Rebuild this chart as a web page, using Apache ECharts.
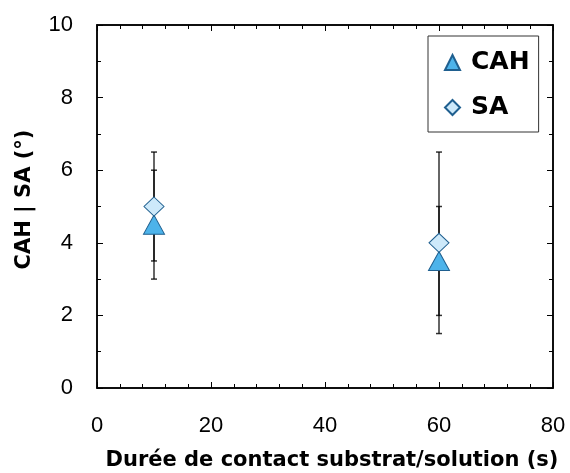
<!DOCTYPE html>
<html><head><meta charset="utf-8">
<script src="https://cdn.jsdelivr.net/npm/echarts@6/dist/echarts.min.js"></script>
<style>html,body{margin:0;padding:0;background:#fff}#c{width:570px;height:473px}</style>
</head><body><div id="c"></div>
<script>
// Data
const durations = [10, 60];
const cahValues = [4.5, 3.5];
const cahErrors = [1.5, 1.5];
const saValues = [5.0, 4.0];
const saErrors = [1.5, 2.5];
const xTicks = [0, 20, 40, 60, 80];
const yTicks = [0, 2, 4, 6, 8, 10];
const xTitle = 'Durée de contact substrat/solution (s)';
const yTitle = 'CAH | SA (°)';

const FONT = 'DejaVu Sans';
const TICKFONT = 'Liberation Sans';
const chart = echarts.init(document.getElementById('c'), null, {renderer: 'canvas'});

function errData(vals, errs) {
  return durations.map((d, i) => [d, vals[i] - errs[i], vals[i] + errs[i]]);
}
function errorRender(params, api) {
  const x = api.value(0);
  const lo = api.coord([x, api.value(1)]);
  const hi = api.coord([x, api.value(2)]);
  const cw = 3;
  const style = {stroke: 'rgba(0,0,0,0.8)', lineWidth: 1.5};
  return {type: 'group', children: [
    {type: 'line', shape: {x1: lo[0], y1: lo[1], x2: hi[0], y2: hi[1]}, style},
    {type: 'line', shape: {x1: lo[0]-cw, y1: lo[1], x2: lo[0]+cw, y2: lo[1]}, style},
    {type: 'line', shape: {x1: hi[0]-cw, y1: hi[1], x2: hi[0]+cw, y2: hi[1]}, style}
  ]};
}

function axLine() { return {show: true, onZero: false, lineStyle: {color: '#000', width: 1.5}}; }
function tk() { return {show: true, inside: true, length: 6, lineStyle: {color: '#000', width: 1}}; }
function mtk(n) { return {show: true, splitNumber: n, length: 4, lineStyle: {color: '#000', width: 1}}; }

chart.setOption({
  animation: false,
  grid: {left: 97, right: 17, top: 25, bottom: 85, show: true, borderColor: '#000', borderWidth: 1.5, backgroundColor: 'transparent'},
  xAxis: [
    {type: 'value', gridIndex: 0, position: 'bottom', min: 0, max: 80, interval: 20,
      axisLine: axLine(), axisTick: tk(), minorTick: mtk(5), splitLine: {show: false},
      axisLabel: {fontFamily: TICKFONT, fontSize: 22, color: '#000', margin: 27,
        formatter: v => xTicks.includes(v) ? String(v) : ''}},
    {type: 'value', gridIndex: 0, position: 'top', min: 0, max: 80, interval: 20,
      axisLine: axLine(), axisTick: tk(), minorTick: mtk(5), splitLine: {show: false},
      axisLabel: {show: false}}
  ],
  yAxis: [
    {type: 'value', gridIndex: 0, position: 'left', min: 0, max: 10, interval: 2,
      axisLine: axLine(), axisTick: tk(), minorTick: mtk(2), splitLine: {show: false},
      axisLabel: {fontFamily: TICKFONT, fontSize: 22, color: '#000', margin: 24,
        formatter: v => yTicks.includes(v) ? String(v) : ''}},
    {type: 'value', gridIndex: 0, position: 'right', min: 0, max: 10, interval: 2,
      axisLine: axLine(), axisTick: tk(), minorTick: mtk(2), splitLine: {show: false},
      axisLabel: {show: false}}
  ],
  legend: {
    left: 428, top: 36, orient: 'vertical',
    borderColor: '#333', borderWidth: 1, borderRadius: 0, backgroundColor: '#fff',
    padding: [14, 9, 12, 16], itemGap: 20, itemWidth: 15, itemHeight: 15,
    textStyle: {fontFamily: FONT, fontWeight: 'bold', fontSize: 25, color: '#000', padding: [0, 0, 0, 6]},
    data: [{name: 'CAH', icon: 'triangle'}, {name: 'SA', icon: 'diamond'}]
  },
  graphic: [
    {type: 'text', x: 332, y: 461, style: {text: xTitle, fontFamily: FONT, fontWeight: 'bold', fontSize: 21, fill: '#000', align: 'center', verticalAlign: 'middle'}},
    {type: 'text', x: 25, y: 199.5, rotation: Math.PI / 2, style: {text: yTitle, fontFamily: FONT, fontWeight: 'bold', fontSize: 21, fill: '#000', align: 'center', verticalAlign: 'middle'}}
  ],
  series: [
    {type: 'custom', name: 'errCAH', renderItem: errorRender, data: errData(cahValues, cahErrors), z: 1, silent: true},
    {type: 'custom', name: 'errSA', renderItem: errorRender, data: errData(saValues, saErrors), z: 1, silent: true},
    {type: 'scatter', name: 'CAH', symbol: 'triangle', symbolSize: [21, 19],
      itemStyle: {color: '#4db3ea', borderColor: '#1f5f8f', borderWidth: 1, opacity: 1},
      data: durations.map((d, i) => [d, cahValues[i]]), z: 3},
    {type: 'scatter', name: 'SA', symbol: 'diamond', symbolSize: [20, 19],
      itemStyle: {color: '#cde9fa', borderColor: '#1f5f8f', borderWidth: 1, opacity: 1},
      data: durations.map((d, i) => [d, saValues[i]]), z: 3}
  ]
});
</script></body></html>
